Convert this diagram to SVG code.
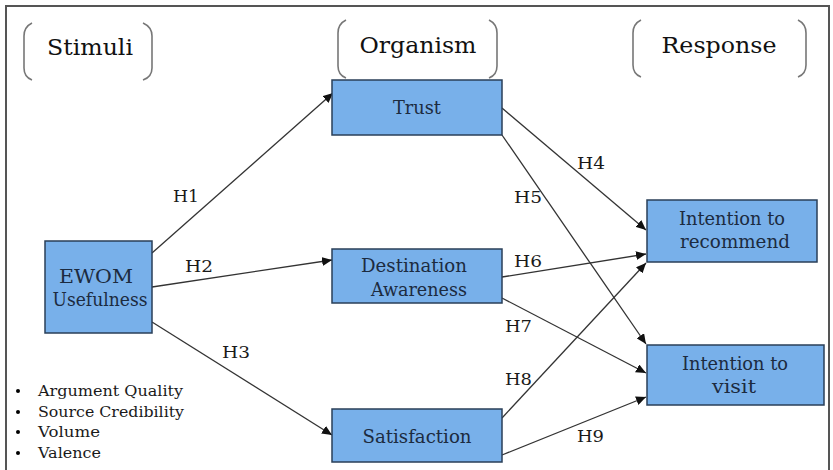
<svg xmlns="http://www.w3.org/2000/svg" width="833" height="470" viewBox="0 0 833 470">
<defs>
<style>
.frame{fill:none;stroke:#555;stroke-width:2}
.brk{fill:none;stroke:#777;stroke-width:1.6}
text{font-family:'DejaVu Serif','Liberation Serif',serif}
.hdr{font-size:23px;fill:#111;text-anchor:middle}
.box{fill:#78b0ea;stroke:#2a3f58;stroke-width:1.5}
.bt{font-size:18px;fill:#1c2b40;text-anchor:middle}
.lbl{font-size:16.5px;fill:#1a1a1a}
.bul{font-size:15.5px;fill:#1a1a1a}
.edge{fill:none;stroke:#333;stroke-width:1.3;marker-end:url(#ah)}
</style>
<marker id="ah" markerUnits="userSpaceOnUse" markerWidth="11" markerHeight="9" refX="10" refY="4.5" orient="auto">
<path d="M0,0 L10,4.5 L0,9 Z" fill="#111"/>
</marker>
</defs>
<rect class="frame" x="6" y="6" width="823" height="475"/>

<g id="hdr-stimuli">
<path class="brk" d="M32,23 Q24,27 24,36 L24,68 Q24,77 32,80"/>
<path class="brk" d="M143,23 Q152,27 152,36 L152,68 Q152,77 143,80"/>
<text class="hdr" x="90" y="55" textLength="86" lengthAdjust="spacingAndGlyphs">Stimuli</text>
</g>
<g id="hdr-organism">
<path class="brk" d="M346,20 Q338,24 338,33 L338,66 Q338,75 346,78"/>
<path class="brk" d="M489,20 Q497,24 497,33 L497,66 Q497,75 489,78"/>
<text class="hdr" x="418" y="53" textLength="117" lengthAdjust="spacingAndGlyphs">Organism</text>
</g>
<g id="hdr-response">
<path class="brk" d="M641,20 Q633,24 633,33 L633,65 Q633,74 641,77"/>
<path class="brk" d="M798,20 Q806,24 806,33 L806,65 Q806,74 798,77"/>
<text class="hdr" x="719" y="53" textLength="115" lengthAdjust="spacingAndGlyphs">Response</text>
</g>

<g id="connectors">
<line class="edge" x1="152" y1="253" x2="333" y2="93"/>
<line class="edge" x1="152" y1="287" x2="332" y2="260"/>
<line class="edge" x1="152" y1="322" x2="332" y2="435"/>
<line class="edge" x1="502" y1="108" x2="646" y2="230"/>
<line class="edge" x1="502" y1="135" x2="646" y2="344"/>
<line class="edge" x1="502" y1="277" x2="646" y2="254"/>
<line class="edge" x1="502" y1="298" x2="646" y2="373"/>
<line class="edge" x1="502" y1="418" x2="646" y2="263"/>
<line class="edge" x1="502" y1="455" x2="646" y2="397"/>
<text class="lbl" x="173" y="202" textLength="26" lengthAdjust="spacingAndGlyphs">H1</text>
<text class="lbl" x="185" y="272" textLength="28" lengthAdjust="spacingAndGlyphs">H2</text>
<text class="lbl" x="222" y="358" textLength="28" lengthAdjust="spacingAndGlyphs">H3</text>
<text class="lbl" x="577" y="169" textLength="28" lengthAdjust="spacingAndGlyphs">H4</text>
<text class="lbl" x="514" y="203" textLength="28" lengthAdjust="spacingAndGlyphs">H5</text>
<text class="lbl" x="514" y="267" textLength="28" lengthAdjust="spacingAndGlyphs">H6</text>
<text class="lbl" x="505" y="332" textLength="27" lengthAdjust="spacingAndGlyphs">H7</text>
<text class="lbl" x="505" y="385" textLength="27" lengthAdjust="spacingAndGlyphs">H8</text>
<text class="lbl" x="577" y="442" textLength="27" lengthAdjust="spacingAndGlyphs">H9</text>
</g>

<g id="ewom">
<rect class="box" x="45" y="241" width="107" height="92"/>
<text class="bt" x="96" y="283" textLength="74" lengthAdjust="spacingAndGlyphs">EWOM</text>
<text class="bt" x="100" y="306" textLength="95" lengthAdjust="spacingAndGlyphs">Usefulness</text>
</g>
<g id="trust">
<rect class="box" x="332" y="80" width="170" height="55"/>
<text class="bt" x="417" y="114" textLength="48" lengthAdjust="spacingAndGlyphs">Trust</text>
</g>
<g id="awareness">
<rect class="box" x="332" y="249" width="170" height="54"/>
<text class="bt" x="414" y="272" textLength="106" lengthAdjust="spacingAndGlyphs">Destination</text>
<text class="bt" x="419" y="296" textLength="96" lengthAdjust="spacingAndGlyphs">Awareness</text>
</g>
<g id="satisfaction">
<rect class="box" x="332" y="409" width="170" height="53"/>
<text class="bt" x="417" y="443" textLength="109" lengthAdjust="spacingAndGlyphs">Satisfaction</text>
</g>
<g id="recommend">
<rect class="box" x="647" y="200" width="170" height="62"/>
<text class="bt" x="732" y="225" textLength="106" lengthAdjust="spacingAndGlyphs">Intention to</text>
<text class="bt" x="735" y="248" textLength="110" lengthAdjust="spacingAndGlyphs">recommend</text>
</g>
<g id="visit">
<rect class="box" x="647" y="345" width="177" height="60"/>
<text class="bt" x="735" y="370" textLength="106" lengthAdjust="spacingAndGlyphs">Intention to</text>
<text class="bt" x="734" y="393" textLength="44" lengthAdjust="spacingAndGlyphs">visit</text>
</g>

<g id="bullets">
<circle cx="18" cy="391" r="2"/>
<circle cx="18" cy="412" r="2"/>
<circle cx="18" cy="432" r="2"/>
<circle cx="18" cy="453" r="2"/>
<text class="bul" x="38" y="396" textLength="145" lengthAdjust="spacingAndGlyphs">Argument Quality</text>
<text class="bul" x="38" y="417" textLength="146" lengthAdjust="spacingAndGlyphs">Source Credibility</text>
<text class="bul" x="38" y="437" textLength="62" lengthAdjust="spacingAndGlyphs">Volume</text>
<text class="bul" x="38" y="458" textLength="63" lengthAdjust="spacingAndGlyphs">Valence</text>
</g>
</svg>
